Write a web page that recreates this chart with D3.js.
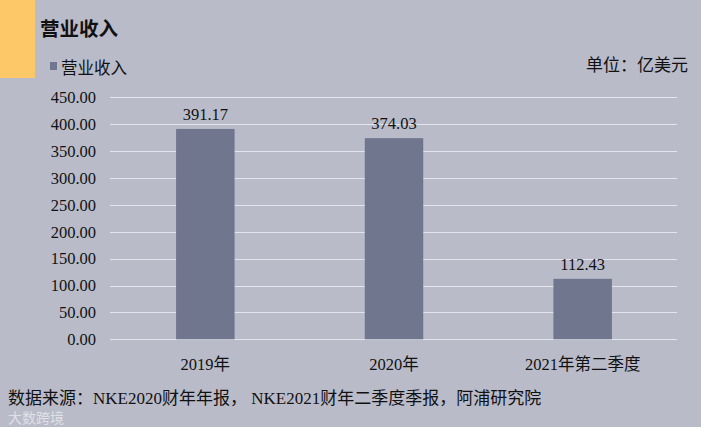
<!DOCTYPE html>
<html>
<head>
<meta charset="utf-8">
<style>
  body { margin: 0; background: #b9bbc9; }
  svg { display: block; }
  .serif { font-family: "Liberation Serif", "Noto Sans CJK SC", serif; }
  .sans { font-family: "Noto Sans CJK SC", "Noto Sans", sans-serif; }
</style>
</head>
<body>
<svg id="chart" width="701" height="427"></svg>
<script src="https://cdn.jsdelivr.net/npm/d3@7"></script>
<script>
// data
var categories = ["2019年", "2020年", "2021年第二季度"];
var revenue = [391.17, 374.03, 112.43];
var yTicks = [0, 50, 100, 150, 200, 250, 300, 350, 400, 450];

var svg = d3.select("#chart");
var W = 701, H = 427;

svg.append("rect").attr("width", W).attr("height", H).attr("fill", "#b9bbc9");

// yellow block at top-left
svg.append("rect").attr("x", 0).attr("y", 0).attr("width", 35).attr("height", 78).attr("fill", "#fdc968");

svg.append("text").attr("class", "sans")
  .attr("x", 40).attr("y", 36)
  .style("font-size", "19.5px").style("font-weight", "bold").attr("fill", "#111")
  .text("营业收入");

// legend
svg.append("rect").attr("x", 50).attr("y", 62).attr("width", 7).attr("height", 8).attr("fill", "#70768e");
svg.append("text").attr("class", "sans")
  .attr("x", 61).attr("y", 74)
  .style("font-size", "16.5px").attr("fill", "#111")
  .text("营业收入");

svg.append("text").attr("class", "sans")
  .attr("x", 688).attr("y", 71).attr("text-anchor", "end")
  .style("font-size", "17px").attr("fill", "#111")
  .text("单位：亿美元");

var x = d3.scaleBand().domain(categories).range([111, 677]).paddingInner(0.69).paddingOuter(0.345);
var y = d3.scaleLinear().domain([0, 450]).range([339.3, 97.3]);

// gridlines
svg.append("g").selectAll("line").data(yTicks).enter().append("line")
  .attr("x1", 110).attr("x2", 677)
  .attr("y1", function (d) { return Math.round(y(d)) + 0.5; })
  .attr("y2", function (d) { return Math.round(y(d)) + 0.5; })
  .attr("stroke", "#e4e5ec").attr("stroke-width", 1);

// y labels
svg.append("g").selectAll("text").data(yTicks).enter().append("text")
  .attr("class", "serif")
  .attr("x", 96).attr("y", function (d) { return y(d); })
  .attr("dy", "0.35em").attr("text-anchor", "end")
  .style("font-size", "16.5px").attr("fill", "#111")
  .text(function (d) { return d.toFixed(2); });

// bars
svg.append("g").selectAll("rect").data(revenue).enter().append("rect")
  .attr("x", function (d, i) { return x(categories[i]); })
  .attr("width", x.bandwidth())
  .attr("y", function (d) { return y(d); })
  .attr("height", function (d) { return y(0) - y(d); })
  .attr("fill", "#70768e");

// value labels
svg.append("g").selectAll("text").data(revenue).enter().append("text")
  .attr("class", "serif")
  .attr("x", function (d, i) { return x(categories[i]) + x.bandwidth() / 2; })
  .attr("y", function (d) { return y(d) - 9; })
  .attr("text-anchor", "middle")
  .style("font-size", "16.5px").attr("fill", "#111")
  .text(function (d) { return d.toFixed(2); });

// x labels
svg.append("g").selectAll("text").data(categories).enter().append("text")
  .attr("class", "serif")
  .attr("x", function (d) { return x(d) + x.bandwidth() / 2; })
  .attr("y", 370).attr("text-anchor", "middle")
  .style("font-size", "16.5px").attr("fill", "#111")
  .text(function (d) { return d; });

// source
svg.append("text").attr("class", "serif")
  .attr("x", 8).attr("y", 404)
  .style("font-size", "17px").attr("fill", "#111")
  .text("数据来源：NKE2020财年年报， NKE2021财年二季度季报，阿浦研究院");

// watermark
svg.append("text").attr("class", "sans")
  .attr("x", 8).attr("y", 423)
  .style("font-size", "14px").attr("fill", "#ffffff").attr("opacity", 0.55)
  .text("大数跨境");
</script>
</body>
</html>
